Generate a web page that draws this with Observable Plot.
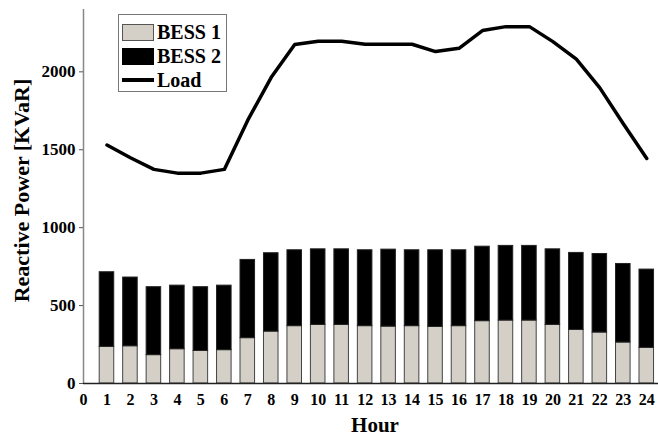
<!DOCTYPE html>
<html>
<head>
<meta charset="utf-8">
<script src="https://cdn.jsdelivr.net/npm/d3@7"></script>
<script src="https://cdn.jsdelivr.net/npm/@observablehq/plot@0.6"></script>
<style>
  html, body { margin: 0; padding: 0; background: #fff; }
  #wrap { position: relative; width: 658px; height: 436px; }
  #legend {
    position: absolute; left: 118px; top: 14px; width: 107px; height: 76px;
    border: 1px solid #777; background: #fff;
    font-family: "Liberation Serif", "Times New Roman", serif; font-weight: bold; font-size: 20px;
  }
  .row { position: absolute; left: 3px; height: 18px; display: flex; align-items: center; }
  .sw { width: 32px; height: 17px; box-sizing: border-box; margin-right: 3px; }
  .ln { width: 32px; height: 3.5px; background: #000; margin-right: 3px; }
</style>
</head>
<body>
<div id="wrap">
  <div id="chart"></div>
  <div id="legend">
    <div class="row" style="top:8px"><div class="sw" style="background:#d4d0c8;border:1px solid #555"></div>BESS 1</div>
    <div class="row" style="top:32px"><div class="sw" style="background:#000"></div>BESS 2</div>
    <div class="row" style="top:56px"><div class="ln"></div>Load</div>
  </div>
</div>
<script>
const hours = d3.range(1, 25);
const bess1 = [235, 239, 182, 220, 209, 214, 291, 333, 368, 376, 376, 368, 365, 368, 363, 368, 400, 404, 404, 376, 344, 327, 263, 229];
const bess2 = [479, 441, 436, 408, 409, 414, 502, 503, 487, 485, 485, 487, 494, 487, 492, 487, 478, 479, 479, 485, 494, 504, 504, 502];
const load = [1530, 1449, 1374, 1350, 1350, 1374, 1690, 1965, 2175, 2196, 2196, 2177, 2177, 2177, 2130, 2151, 2265, 2290, 2290, 2194, 2081, 1897, 1667, 1444];
const xTicks = d3.range(0, 25);
const yTicks = [0, 500, 1000, 1500, 2000];

const rows = hours.map((h, i) => ({hour: h, b1: bess1[i], b2: bess2[i], load: load[i]}));
const halfW = 0.31;

const chart = Plot.plot({
  width: 658,
  height: 436,
  marginLeft: 83,
  marginRight: 0,
  marginTop: 9,
  marginBottom: 53,
  style: {fontFamily: "'Liberation Serif', 'Times New Roman', serif", fontWeight: "bold", fontSize: "16px", color: "#000", background: "#fff"},
  x: {type: "linear", domain: [0, 24.5]},
  y: {domain: [0, 2400]},
  marks: [
    Plot.rect(rows, {x1: d => d.hour - halfW, x2: d => d.hour + halfW, y1: 0, y2: "b1", fill: "#d4d0c8", stroke: "#444", strokeWidth: 1}),
    Plot.rect(rows, {x1: d => d.hour - halfW, x2: d => d.hour + halfW, y1: "b1", y2: d => d.b1 + d.b2, fill: "#000", stroke: "#222", strokeWidth: 1}),
    Plot.line(rows, {x: "hour", y: "load", stroke: "#000", strokeWidth: 3.5}),
    Plot.ruleX([0], {stroke: "#888", strokeWidth: 1.5}),
    Plot.ruleY([0], {stroke: "#222", strokeWidth: 1.5}),
    Plot.axisY({ticks: yTicks, tickSize: 4, tickPadding: 4, tickFormat: "d", label: null, fontSize: 17, fontWeight: "bold", stroke: "#555"}),
    Plot.axisX({ticks: xTicks, tickSize: 0, tickPadding: 10, tickFormat: "d", label: null, fontSize: 16, fontWeight: "bold"}),
    Plot.text(["Reactive Power [KVaR]"], {frameAnchor: "left", textAnchor: "middle", lineAnchor: "middle", dx: -62, dy: -6, rotate: -90, fontSize: 22, fontWeight: "bold", fill: "#000"}),
    Plot.text(["Hour"], {frameAnchor: "bottom", textAnchor: "middle", lineAnchor: "middle", dx: 4, dy: 42, fontSize: 21, fontWeight: "bold", fill: "#000"})
  ]
});
document.getElementById("chart").appendChild(chart);
</script>
</body>
</html>
